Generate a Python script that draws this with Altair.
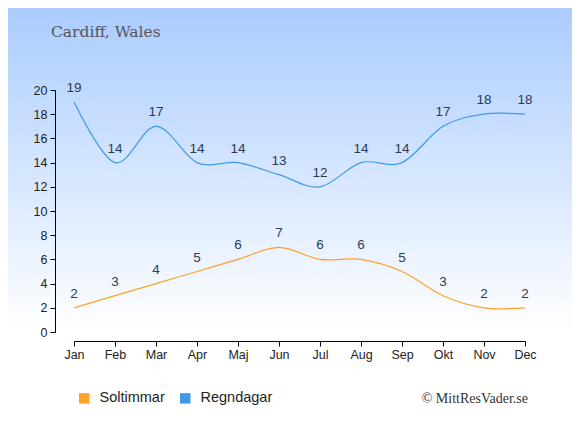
import altair as alt
import pandas as pd

months = ["Jan", "Feb", "Mar", "Apr", "Maj", "Jun", "Jul", "Aug", "Sep", "Okt", "Nov", "Dec"]
soltimmar = [2, 3, 4, 5, 6, 7, 6, 6, 5, 3, 2, 2]
regndagar = [19, 14, 17, 14, 14, 13, 12, 14, 14, 17, 18, 18]
series_names = ["Soltimmar", "Regndagar"]
series_colors = ["#ffa126", "#3d9be9"]
y_ticks = list(range(0, 21, 2))

rows = []
for name, vals in zip(series_names, [soltimmar, regndagar]):
    for m, v in zip(months, vals):
        rows.append({"month": m, "series": name, "value": v})
df = pd.DataFrame(rows)

W, H = 451, 242
PL, PT, PR, PB = 66, 82, 47, 90

bg = alt.Chart(pd.DataFrame({"a": [0]})).mark_rect(
    color=alt.Gradient(
        gradient="linear", x1=0, y1=0, x2=0, y2=1,
        stops=[alt.GradientStop(offset=0, color="#aaccff"),
               alt.GradientStop(offset=0.78, color="#ffffff"),
               alt.GradientStop(offset=1, color="#ffffff")],
    )
).encode(
    x=alt.value(-PL), x2=alt.value(W + PR),
    y=alt.value(-PT), y2=alt.value(H + PB),
)

x_enc = alt.X("month:O", sort=months, scale=alt.Scale(type="point", padding=0),
              axis=alt.Axis(title=None, labelAngle=0, offset=9, tickSize=5,
                            labelPadding=2, domainColor="#000", tickColor="#000",
                            labelColor="#222", labelFontSize=12.5,
                            labelFont="Liberation Sans", grid=False, zindex=1,
                            labelOverlap=False))
y_enc = alt.Y("value:Q", scale=alt.Scale(domain=[0, 20], nice=False),
              axis=alt.Axis(title=None, values=y_ticks, offset=19, tickSize=5,
                            labelPadding=3, domainColor="#000", tickColor="#000",
                            labelColor="#222", labelFontSize=12.5,
                            labelFont="Liberation Sans", grid=False, zindex=1,
                            labelOverlap=False, labelBound=False, labelFlush=False))
color_enc = alt.Color("series:N", sort=series_names,
                      scale=alt.Scale(domain=series_names, range=series_colors),
                      legend=alt.Legend(title=None, orient="none", direction="horizontal",
                                        legendX=3, legendY=301,
                                        symbolType="square", symbolSize=110,
                                        symbolStrokeWidth=0, symbolOpacity=1,
                                        labelFontSize=14.5, labelFont="Liberation Sans",
                                        labelColor="#222", labelOffset=8,
                                        columnPadding=13, zindex=1))

lines = alt.Chart(df).mark_line(interpolate="cardinal", strokeWidth=1.2).encode(
    x=x_enc, y=y_enc, color=color_enc
)

legend_keys = alt.Chart(df).mark_square(opacity=0, size=100).encode(
    x=x_enc, y=y_enc, color=color_enc
)

labels = alt.Chart(df).mark_text(
    dy=-14, baseline="middle", fontSize=13.5, font="Liberation Sans", color="#2b3a57"
).encode(
    x=x_enc, y=y_enc, text="value:Q"
)

title = alt.Chart(pd.DataFrame({"t": ["Cardiff, Wales"]})).mark_text(
    align="left", baseline="alphabetic", font="DejaVu Serif", fontSize=15.5, color="#555555"
).encode(x=alt.value(-23), y=alt.value(-53), text="t:N")

credit = alt.Chart(pd.DataFrame({"t": ["© MittResVader.se"]})).mark_text(
    align="right", baseline="alphabetic", font="Liberation Serif", fontSize=14, color="#333333"
).encode(x=alt.value(528 - 74), y=alt.value(403 - 90), text="t:N")

chart = alt.layer(bg, lines, legend_keys, labels, title, credit).properties(
    width=W, height=H,
    autosize=alt.AutoSizeParams(type="none"),
    padding={"left": PL, "top": PT, "right": PR, "bottom": PB},
).configure_view(stroke=None)

chart.save("out.html", embed_options={"renderer": "svg", "actions": False})
